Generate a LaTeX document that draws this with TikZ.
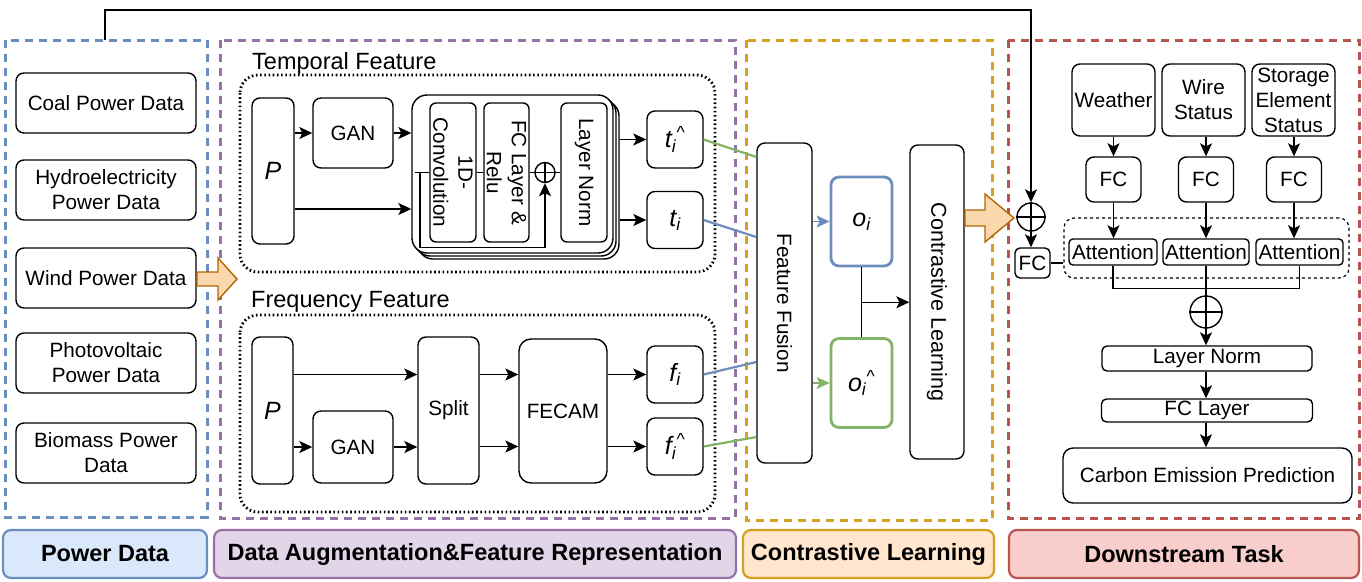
\documentclass[tikz,border=0pt]{standalone}
\usepackage{fontspec}
\setmainfont{Liberation Sans}
\usetikzlibrary{arrows.meta,calc}
\definecolor{cblue}{HTML}{6C8EBF}
\definecolor{cbluef}{HTML}{DAE8FC}
\definecolor{cpurple}{HTML}{9673A6}
\definecolor{cpurplef}{HTML}{E1D5E7}
\definecolor{cyellow}{HTML}{D6A020}
\definecolor{cyellowf}{HTML}{FFE6CC}
\definecolor{cred}{HTML}{B85450}
\definecolor{credf}{HTML}{F8CECC}
\definecolor{cgreen}{HTML}{82B366}
\definecolor{oarrf}{HTML}{FAD7AC}
\definecolor{oarrd}{HTML}{B46504}
\newcommand{\boxfont}{\fontsize{20.7}{25}\selectfont}
\newcommand{\labfont}{\fontsize{23.5}{27}\selectfont}
\newcommand{\varfont}{\fontsize{25}{28}\selectfont}
\newcommand{\bigfont}{\fontsize{23.5}{27}\selectfont\bfseries}
\tikzset{
  box/.style={draw, rounded corners=8pt, line width=1.4pt, fill=white, inner sep=0pt, align=center, font=\boxfont},
  rot/.style={rotate=-90, align=center, font=\boxfont, inner sep=0pt},
  arr/.style={-{Stealth[length=13pt,width=12pt,inset=3pt]}, line width=1.4pt},
  plain/.style={line width=1.4pt},
  dotbox/.style={line width=2.8pt, dash pattern=on 1.6pt off 2.6pt, rounded corners=18pt},
  gdash/.style={line width=3pt, dash pattern=on 8pt off 6pt},
  lbl/.style={rounded corners=8pt, line width=2.2pt, inner sep=0pt, font=\bigfont},
  oarr/.style={fill=oarrf, draw=oarrd, line width=1.4pt, line join=miter},
  cplus/.style={circle, draw, line width=1.4pt, inner sep=0pt, fill=white},
  stackbox/.style={draw, rounded corners=15pt, line width=1.4pt, fill=white, minimum width=201pt, minimum height=158pt, inner sep=0pt}
}
\begin{document}
\begin{tikzpicture}[x=1pt,y=-1pt]
\useasboundingbox (0,0) rectangle (1362,581);

% group outlines
\draw[gdash, cblue] (5,40) rectangle (207,517);
\draw[gdash, cpurple] (220,40) rectangle (735,518);
\draw[gdash, cyellow] (746,40) rectangle (992,520);
\draw[gdash, cred] (1008,40) rectangle (1359.5,518);

% bottom labels
\node[lbl, fill=cbluef, draw=cblue, minimum width=204pt, minimum height=48pt] (l1) at (105,554) {Power Data};
\node[lbl, fill=cpurplef, draw=cpurple, minimum width=522pt, minimum height=48pt] (l2) at (475,554) {Data Augmentation\&Feature Representation};
\node[lbl, fill=cyellowf, draw=cyellow, minimum width=251pt, minimum height=48pt] (l3) at (868.5,554) {Contrastive Learning};
\node[lbl, fill=credf, draw=cred, minimum width=350pt, minimum height=48pt] (l4) at (1184,554) {Downstream Task};

% power data
\node[box, minimum width=180pt, minimum height=60pt] (coal) at (106,103) {Coal Power Data};
\node[box, minimum width=180pt, minimum height=60pt] (hydro) at (106,190) {Hydroelectricity\\Power Data};
\node[box, minimum width=180pt, minimum height=60pt] (wind) at (106,278) {Wind Power Data};
\node[box, minimum width=180pt, minimum height=60pt] (pv) at (106,363) {Photovoltaic\\Power Data};
\node[box, minimum width=180pt, minimum height=60pt] (bio) at (106,453) {Biomass Power\\Data};

% left orange arrow
\draw[oarr] (197,272) -- (218,272) -- (218,258) -- (237,279) -- (218,300) -- (218,286) -- (197,286) -- cycle;

% temporal feature
\node[anchor=west, font=\labfont, inner sep=0pt] (tlab) at (252,63) {Temporal Feature};
\draw[dotbox] (240,75) rectangle (715,272);
\node[box, minimum width=42pt, minimum height=146pt, font=\varfont] (tP) at (273,171) {\textit{P}};
\node[box, minimum width=80pt, minimum height=70pt] (tGAN) at (353,133) {GAN};
\node[stackbox] (stkC) at (518.5,180) {};
\node[stackbox] (stkB) at (515.5,177) {};
\node[stackbox] (stk) at (512.5,174) {};
\node[box, rounded corners=6pt, minimum width=46pt, minimum height=139pt] (conv) at (453,172.5) {};
\node[rot] at (conv) {1D-\\Convolution};
\node[box, rounded corners=6pt, minimum width=45pt, minimum height=139pt] (fc) at (506.5,172.5) {};
\node[rot] at (fc) {FC Layer \&\\Relu};
\node[box, rounded corners=6pt, minimum width=46pt, minimum height=139pt] (ln) at (584,172.5) {};
\node[rot] at (ln) {Layer Norm};
\node[cplus, minimum size=20pt] (tcp) at (545,172.5) {};
\draw[plain] (tcp.north) -- (tcp.south) (tcp.west) -- (tcp.east);
\node[box, minimum width=56pt, minimum height=57pt, font=\varfont] (th) at (675,139.5) {\textit{t\textsubscript{i}\textsuperscript{\textasciicircum}}};
\node[box, minimum width=56pt, minimum height=57pt, font=\varfont] (ti) at (675,220) {\textit{t\textsubscript{i}}};

\draw[arr] (tP.east |- tGAN.west) -- (tGAN.west);
\draw[arr] (tGAN.east) -- (tGAN.east -| stk.west);
\draw[arr] ([yshift=-38pt]tP.east) -- ([yshift=-38pt]tP.east -| stk.west);
\draw[arr] (stkC.east |- th.west) -- (th.west);
\draw[arr] (stkC.east |- ti.west) -- (ti.west);
\draw[plain] (conv.east) -- (fc.west);
\draw[plain] (fc.east) -- (tcp.west);
\draw[plain] (tcp.east) -- (ln.west);
\coordinate (sk) at (415,172.5);
\draw[plain] (sk) -- (conv.west);
\draw[arr] (sk) ++(5,0) -- ++(0,75) -| (tcp.south);

% frequency feature
\node[anchor=west, font=\labfont, inner sep=0pt] (flab) at (251,302) {Frequency Feature};
\draw[dotbox] (240,315) rectangle (715,512);
\node[box, minimum width=41pt, minimum height=147pt, font=\varfont] (fP) at (272.5,410.5) {\textit{P}};
\node[box, minimum width=80pt, minimum height=72pt] (fGAN) at (353,447) {GAN};
\node[box, minimum width=61pt, minimum height=147pt] (split) at (448.5,410.5) {Split};
\node[box, rounded corners=12pt, minimum width=88pt, minimum height=144pt] (fecam) at (563,411) {FECAM};
\node[box, minimum width=56pt, minimum height=57pt, font=\varfont] (fi) at (675,374.5) {\textit{f\textsubscript{i}}};
\node[box, minimum width=56pt, minimum height=57pt, font=\varfont] (fh) at (675,446.5) {\textit{f\textsubscript{i}\textsuperscript{\textasciicircum}}};

\draw[arr] (fP.east |- fi.west) -- (split.west |- fi.west);
\draw[arr] (fP.east |- fGAN.west) -- (fGAN.west);
\draw[arr] (fGAN.east) -- (fGAN.east -| split.west);
\draw[arr] (split.east |- fi.west) -- (fecam.west |- fi.west);
\draw[arr] (split.east |- fh.west) -- (fecam.west |- fh.west);
\draw[arr] (fecam.east |- fi.west) -- (fi.west);
\draw[arr] (fecam.east |- fh.west) -- (fh.west);

% contrastive learning
\node[box, minimum width=55pt, minimum height=320pt] (ff) at (784.5,303) {};
\node[rot] at (ff) {Feature Fusion};
\node[box, draw=cblue, line width=2.8pt, minimum width=61pt, minimum height=89pt, font=\varfont] (oi) at (861.5,221.5) {\textit{o\textsubscript{i}}};
\node[box, draw=cgreen, line width=2.8pt, minimum width=61pt, minimum height=89pt, font=\varfont] (oh) at (861.5,383) {\textit{o\textsubscript{i}\textsuperscript{\textasciicircum}}};
\node[box, minimum width=54pt, minimum height=314pt] (cl) at (937,302) {};
\node[rot, font=\fontsize{21.5}{25}\selectfont] at (cl) {Contrastive Learning};

\draw[cgreen, line width=2.2pt] (th.east) -- ([yshift=146pt]ff.west);
\draw[cblue, line width=2.2pt] (ti.east) -- ([yshift=66pt]ff.west);
\draw[cblue, line width=2.2pt] (fi.east) -- ([yshift=-59pt]ff.west);
\draw[cgreen, line width=2.2pt] (fh.east) -- ([yshift=-134pt]ff.west);
\draw[arr, cblue] (ff.east |- oi.west) -- (oi.west);
\draw[arr, cgreen] (ff.east |- oh.west) -- (oh.west);
\draw[plain] (oi.south) -- (oh.north);
\coordinate (mid) at ($(oi.south)!.5!(oh.north)$);
\draw[arr] (mid) -- (mid -| cl.west);

% right orange arrow
\draw[oarr] (965,210) -- (985,210) -- (985,194) -- (1014,218) -- (985,242) -- (985,226) -- (965,226) -- cycle;

% downstream
\node[cplus, minimum size=28pt] (cp1) at (1031,217) {};
\draw[plain] (cp1.north) -- (cp1.south) (cp1.west) -- (cp1.east);
\coordinate (src) at (105,40);
\draw[arr] (src) -- ++(0,-30) -| (cp1.north);
\node[box, rounded corners=5pt, minimum width=35pt, minimum height=30pt] (fcs) at (1032.5,263) {FC};
\draw[arr] (cp1.south) -- (cp1.south |- fcs.north);
\node[draw, dashed, rounded corners=10pt, line width=1.2pt, minimum width=285pt, minimum height=60pt, inner sep=0pt] (attg) at (1206.5,248) {};
\draw[plain] (fcs.east) -- (fcs.east -| attg.west);

\node[box, minimum width=83pt, minimum height=72pt] (we) at (1113.5,100) {Weather};
\node[box, minimum width=83pt, minimum height=72pt] (ws) at (1203.5,100) {Wire\\Status};
\node[box, minimum width=83pt, minimum height=72pt] (se) at (1293.5,100) {Storage\\Element\\Status};
\node[box, minimum width=55pt, minimum height=45pt] (fc1) at (1113.5,179.5) {FC};
\node[box, minimum width=55pt, minimum height=45pt] (fc2) at (1206,179.5) {FC};
\node[box, minimum width=55pt, minimum height=45pt] (fc3) at (1294,179.5) {FC};
\node[box, rounded corners=4pt, minimum width=88pt, minimum height=26pt] (a1) at (1113,252) {Attention};
\node[box, rounded corners=4pt, minimum width=86pt, minimum height=26pt] (a2) at (1206,252) {Attention};
\node[box, rounded corners=4pt, minimum width=87pt, minimum height=26pt] (a3) at (1299.5,252) {Attention};

\draw[arr] (we.south) -- (we.south |- fc1.north);
\draw[arr] (ws.south -| fc2.north) -- (fc2.north);
\draw[arr] (se.south -| fc3.north) -- (fc3.north);
\draw[arr] (fc1.south) -- (fc1.south |- a1.north);
\draw[arr] (fc2.south) -- (fc2.south |- a2.north);
\draw[arr] (fc3.south) -- (fc3.south |- a3.north);

\node[cplus, minimum size=32pt] (cp2) at (1206,312) {};
\draw[plain] (cp2.north) -- (cp2.south) (cp2.west) -- (cp2.east);
\draw[plain] (a1.south) -- ++(0,23) -| (a3.south);
\draw[plain] (a2.south) -- (cp2.north);

\node[box, rounded corners=5pt, minimum width=210pt, minimum height=25pt] (ln2) at (1207,358.5) {Layer Norm};
\node[box, rounded corners=5pt, minimum width=211pt, minimum height=23pt] (fcl) at (1207,410.5) {FC Layer};
\node[box, rounded corners=10pt, minimum width=289pt, minimum height=55pt] (cep) at (1207.5,475.5) {Carbon Emission Prediction};
\draw[arr] (cp2.south) -- (cp2.south |- ln2.north);
\draw[arr] (cp2.south |- ln2.south) -- (cp2.south |- fcl.north);
\draw[arr] (cp2.south |- fcl.south) -- (cp2.south |- cep.north);
\end{tikzpicture}
\end{document}
